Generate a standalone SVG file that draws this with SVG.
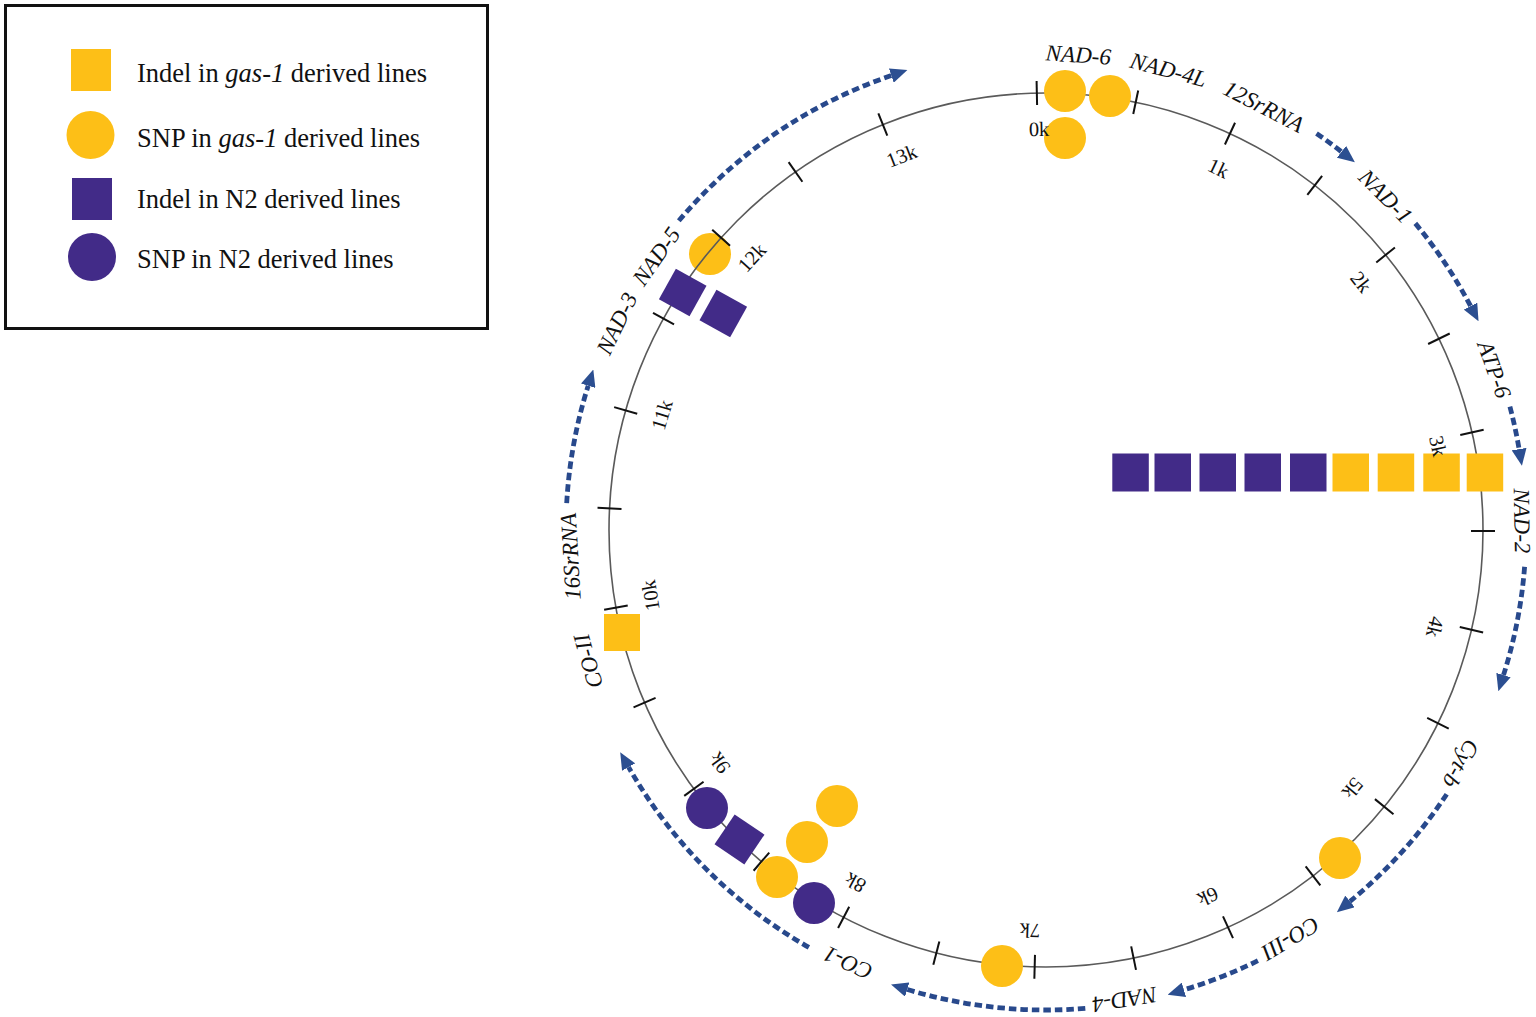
<svg xmlns="http://www.w3.org/2000/svg" width="1536" height="1017" viewBox="0 0 1536 1017">
<defs>
<style>
.ring{fill:none;stroke:#5a5a5a;stroke-width:1.6}
.tick{stroke:#111;stroke-width:2}
.tl{font-family:"Liberation Serif",serif;font-size:20.5px;fill:#111;text-anchor:middle;dominant-baseline:central}
.gl{font-family:"Liberation Serif",serif;font-style:italic;font-size:23px;fill:#111;text-anchor:middle;dominant-baseline:central}
.arr{fill:none;stroke:#28498c;stroke-width:4.8;stroke-dasharray:7.5 4;marker-end:url(#ah)}
.y{fill:#fdbf17}
.p{fill:#422b88}
.lg{font-family:"Liberation Serif",serif;font-size:26.5px;fill:#111}
</style>
<marker id="ah" markerUnits="userSpaceOnUse" markerWidth="17" markerHeight="15" refX="0" refY="7.5" orient="auto">
<path d="M0,0 L17,7.5 L0,15 z" fill="#2c4f91"/>
</marker>
</defs>
<rect width="1536" height="1017" fill="#fff"/>

<g id="legend">
<rect x="5.5" y="5.5" width="482" height="323" fill="#fff" stroke="#111" stroke-width="3"/>
<rect class="y" x="71" y="49" width="40" height="42"/>
<circle class="y" cx="90.5" cy="135" r="24"/>
<rect class="p" x="72" y="178" width="40" height="42"/>
<circle class="p" cx="92" cy="257" r="24"/>
<text class="lg" x="137" y="82">Indel in <tspan font-style="italic">gas-1</tspan> derived lines</text>
<text class="lg" x="137" y="147">SNP in <tspan font-style="italic">gas-1</tspan> derived lines</text>
<text class="lg" x="137" y="208">Indel in N2 derived lines</text>
<text class="lg" x="137" y="268">SNP in N2 derived lines</text>
</g>

<g id="marker-12k-snp">
<circle class="y" cx="710" cy="254" r="21"/>
</g>

<g id="genome-ring">
<circle class="ring" cx="1046" cy="530" r="437"/>
</g>

<g id="ticks">
<line class="tick" x1="1046" y1="81" x2="1046" y2="105" transform="rotate(-1.2 1046 530)"/>
<line class="tick" x1="1046" y1="81" x2="1046" y2="105" transform="rotate(11.849 1046 530)"/>
<line class="tick" x1="1046" y1="81" x2="1046" y2="105" transform="rotate(24.898 1046 530)"/>
<line class="tick" x1="1046" y1="81" x2="1046" y2="105" transform="rotate(37.947 1046 530)"/>
<line class="tick" x1="1046" y1="81" x2="1046" y2="105" transform="rotate(50.996 1046 530)"/>
<line class="tick" x1="1046" y1="81" x2="1046" y2="105" transform="rotate(64.045 1046 530)"/>
<line class="tick" x1="1046" y1="81" x2="1046" y2="105" transform="rotate(77.094 1046 530)"/>
<line class="tick" x1="1046" y1="81" x2="1046" y2="105" transform="rotate(90.143 1046 530)"/>
<line class="tick" x1="1046" y1="81" x2="1046" y2="105" transform="rotate(103.192 1046 530)"/>
<line class="tick" x1="1046" y1="81" x2="1046" y2="105" transform="rotate(116.241 1046 530)"/>
<line class="tick" x1="1046" y1="81" x2="1046" y2="105" transform="rotate(129.29 1046 530)"/>
<line class="tick" x1="1046" y1="81" x2="1046" y2="105" transform="rotate(142.339 1046 530)"/>
<line class="tick" x1="1046" y1="81" x2="1046" y2="105" transform="rotate(155.388 1046 530)"/>
<line class="tick" x1="1046" y1="81" x2="1046" y2="105" transform="rotate(168.437 1046 530)"/>
<line class="tick" x1="1046" y1="81" x2="1046" y2="105" transform="rotate(181.486 1046 530)"/>
<line class="tick" x1="1046" y1="81" x2="1046" y2="105" transform="rotate(194.535 1046 530)"/>
<line class="tick" x1="1046" y1="81" x2="1046" y2="105" transform="rotate(207.584 1046 530)"/>
<line class="tick" x1="1046" y1="81" x2="1046" y2="105" transform="rotate(220.633 1046 530)"/>
<line class="tick" x1="1046" y1="81" x2="1046" y2="105" transform="rotate(233.682 1046 530)"/>
<line class="tick" x1="1046" y1="81" x2="1046" y2="105" transform="rotate(246.731 1046 530)"/>
<line class="tick" x1="1046" y1="81" x2="1046" y2="105" transform="rotate(259.78 1046 530)"/>
<line class="tick" x1="1046" y1="81" x2="1046" y2="105" transform="rotate(272.829 1046 530)"/>
<line class="tick" x1="1046" y1="81" x2="1046" y2="105" transform="rotate(285.878 1046 530)"/>
<line class="tick" x1="1046" y1="81" x2="1046" y2="105" transform="rotate(298.927 1046 530)"/>
<line class="tick" x1="1046" y1="81" x2="1046" y2="105" transform="rotate(311.976 1046 530)"/>
<line class="tick" x1="1046" y1="81" x2="1046" y2="105" transform="rotate(325.025 1046 530)"/>
<line class="tick" x1="1046" y1="81" x2="1046" y2="105" transform="rotate(338.074 1046 530)"/>
</g>

<g id="gene-labels">
<text class="gl" x="1046" y="54" transform="rotate(3.9 1046 530)">NAD-6</text>
<text class="gl" x="1046" y="54" transform="rotate(14.9 1046 530)">NAD-4L</text>
<text class="gl" x="1046" y="54" transform="rotate(27.2 1046 530)">12SrRNA</text>
<text class="gl" x="1046" y="54" transform="rotate(45.5 1046 530)">NAD-1</text>
<text class="gl" x="1046" y="54" transform="rotate(70.3 1046 530)">ATP-6</text>
<text class="gl" x="1046" y="54" transform="rotate(88.9 1046 530)">NAD-2</text>
<text class="gl" x="1046" y="54" transform="rotate(119.4 1046 530)">Cyt-b</text>
<text class="gl" x="1046" y="54" transform="rotate(149.1 1046 530)">CO-III</text>
<text class="gl" x="1046" y="54" transform="rotate(170.5 1046 530)">NAD-4</text>
<text class="gl" x="1046" y="54" transform="rotate(204.6 1046 530)">CO-1</text>
<text class="gl" x="1046" y="54" transform="rotate(254 1046 530)">CO-II</text>
<text class="gl" x="1046" y="54" transform="rotate(266.8 1046 530)">16SrRNA</text>
<text class="gl" x="1046" y="54" transform="rotate(295.7 1046 530)">NAD-3</text>
<text class="gl" x="1046" y="54" transform="rotate(305.1 1046 530)">NAD-5</text>
</g>

<g id="connectors">
<path class="arr" d="M678.8,220.8 A480,480 0 0 1 891.3,75.6"/>
<path class="arr" d="M1316.5,133.5 A480,480 0 0 1 1341.5,151.8"/>
<path class="arr" d="M1415.3,223.4 A480,480 0 0 1 1470.6,306.1"/>
<path class="arr" d="M1509.9,406.6 A480,480 0 0 1 1519.1,449.1"/>
<path class="arr" d="M1524.6,566.8 A480,480 0 0 1 1503.5,675.1"/>
<path class="arr" d="M1446.7,794.2 A480,480 0 0 1 1350.0,901.4"/>
<path class="arr" d="M1257.9,960.7 A480,480 0 0 1 1183.9,989.8"/>
<path class="arr" d="M1085.3,1008.4 A480,480 0 0 1 907.3,989.5"/>
<path class="arr" d="M808.9,947.4 A480,480 0 0 1 628.6,767.1"/>
<path class="arr" d="M566.7,503.2 A480,480 0 0 1 588.2,385.7"/>
</g>

<g id="markers-top">
<circle class="y" cx="1065" cy="91" r="21"/>
<circle class="y" cx="1110" cy="96" r="21"/>
<circle class="y" cx="1065" cy="138" r="21"/>
</g>

<g id="markers-3k">
<rect class="p" x="1112.3" y="453.5" width="36.5" height="38"/>
<rect class="p" x="1154.5" y="453.5" width="36.5" height="38"/>
<rect class="p" x="1199.5" y="453.5" width="36.5" height="38"/>
<rect class="p" x="1244.5" y="453.5" width="36.5" height="38"/>
<rect class="p" x="1290" y="453.5" width="36.5" height="38"/>
<rect class="y" x="1332.5" y="453.5" width="36.5" height="38"/>
<rect class="y" x="1377.7" y="453.5" width="36.5" height="38"/>
<rect class="y" x="1423.3" y="453.5" width="36.5" height="38"/>
<rect class="y" x="1466.7" y="453.5" width="36.5" height="38"/>
</g>

<g id="markers-5k">
<circle class="y" cx="1340" cy="858" r="21"/>
</g>

<g id="markers-7k">
<circle class="y" cx="1002" cy="966" r="21"/>
</g>

<g id="markers-8k">
<circle class="p" cx="707" cy="808" r="21"/>
<rect class="p" x="-18" y="-18" width="36" height="36" transform="translate(739.5 839.5) rotate(34)"/>
<circle class="y" cx="777" cy="877" r="21"/>
<circle class="p" cx="814" cy="903" r="21"/>
<circle class="y" cx="807" cy="842" r="21"/>
<circle class="y" cx="837" cy="806" r="21"/>
</g>

<g id="markers-10k">
<rect class="y" x="604" y="614" width="36" height="37"/>
</g>

<g id="markers-12k">
<rect class="p" x="-17.5" y="-17.5" width="35" height="35" transform="translate(682.7 292.5) rotate(29)"/>
<rect class="p" x="-17.5" y="-17.5" width="35" height="35" transform="translate(723.3 313.5) rotate(29)"/>
</g>

<g id="tick-labels">
<text class="tl" x="1046" y="129" transform="rotate(-1.0 1046 530)">0k</text>
<text class="tl" x="1046" y="129" transform="rotate(25.5 1046 530)">1k</text>
<text class="tl" x="1046" y="129" transform="rotate(51.8 1046 530)">2k</text>
<text class="tl" x="1046" y="129" transform="rotate(77.9 1046 530)">3k</text>
<text class="tl" x="1046" y="129" transform="rotate(104.0 1046 530)">4k</text>
<text class="tl" x="1046" y="129" transform="rotate(130.1 1046 530)">5k</text>
<text class="tl" x="1046" y="129" transform="rotate(156.2 1046 530)">6k</text>
<text class="tl" x="1046" y="129" transform="rotate(182.3 1046 530)">7k</text>
<text class="tl" x="1046" y="129" transform="rotate(208.4 1046 530)">8k</text>
<text class="tl" x="1046" y="129" transform="rotate(234.5 1046 530)">9k</text>
<text class="tl" x="1046" y="129" transform="rotate(260.6 1046 530)">10k</text>
<text class="tl" x="1046" y="129" transform="rotate(286.7 1046 530)">11k</text>
<text class="tl" x="1046" y="129" transform="rotate(312.8 1046 530)">12k</text>
<text class="tl" x="1046" y="129" transform="rotate(338.9 1046 530)">13k</text>
</g>
</svg>
